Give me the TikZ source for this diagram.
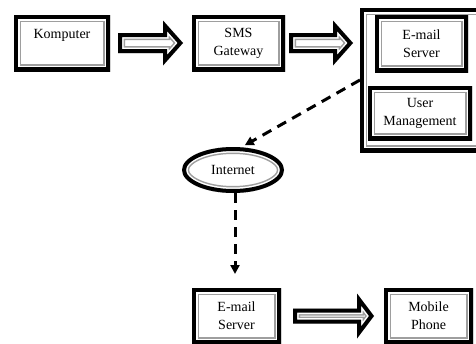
\documentclass[tikz,border=0pt]{standalone}
\usepackage{fontspec}
\setmainfont{Liberation Serif}
\usetikzlibrary{calc,arrows.meta,shapes.geometric}
\definecolor{framegray}{gray}{0.62}
\newcommand\tframe[1]{\begin{scope}\clip #1; \draw[framegray, line width=14pt] #1; \draw[white, line width=11pt] #1; \draw[black, line width=8pt] #1;\end{scope}}
\newcommand\rectframe[1]{\tframe{(#1.north west) rectangle (#1.south east)}}
% from, to, gap from, gap to, shaft half, head half, head length
\newcommand\blockarrow[7]{\tframe{let \p1=($(#1.east)+(#3,0)$), \p2=($(#2.west)-(#4,0)$) in
  (\x1,\y1+#5pt) -- (\x2-#7pt,\y1+#5pt) -- (\x2-#7pt,\y1+#6pt) -- (\x2,\y1) --
  (\x2-#7pt,\y1-#6pt) -- (\x2-#7pt,\y1-#5pt) -- (\x1,\y1-#5pt) -- cycle}}
\tikzset{
  box/.style={rectangle, inner sep=0pt, outer sep=0pt, align=center,
    font=\fontsize{14}{18}\selectfont},
  conn/.style={line width=3pt, dash pattern=on 10pt off 7pt,
    -{Triangle[length=9pt,width=9pt]}},
}
\begin{document}
\begin{tikzpicture}[x=1pt,y=-1pt,line join=miter]
\useasboundingbox (0,0) rectangle (476,343);
\fill[white] (0,0) rectangle (476,343);
\clip (0,0) rectangle (476,343);

\node[box, minimum width=96pt, minimum height=56pt] (komp) at (62,43) {Komputer\\\mbox{}};
\node[box, minimum width=93pt, minimum height=56pt] (sms) at (238.5,43) {SMS\\Gateway};
\node[box, minimum width=170pt, minimum height=144pt] (grp) at (445,80) {};
\node[box, minimum width=93pt, minimum height=57pt] (mail1) at (421.5,43.5) {E-mail\\Server};
\node[box, minimum width=104pt, minimum height=54pt] (user) at (420,113) {User\\Management};
\node[box, ellipse, minimum width=102pt, minimum height=46pt] (inet) at (233,170) {Internet};
\node[box, minimum width=89pt, minimum height=56pt] (mail2) at (236.5,316) {E-mail\\Server};
\node[box, minimum width=89pt, minimum height=56pt] (mobile) at (428.5,316) {Mobile\\Phone};

\rectframe{komp}
\rectframe{sms}
\rectframe{grp}
\rectframe{mail1}
\rectframe{user}
\tframe{(inet.center) ellipse [x radius=51pt, y radius=23pt]}
\rectframe{mail2}
\rectframe{mobile}

\blockarrow{komp}{sms}{8}{9}{10}{22.5}{20}
\blockarrow{sms}{grp}{4}{7}{10}{22.5}{20}
\blockarrow{mail2}{mobile}{12}{10}{7.5}{22.5}{17}

\draw[conn, shorten >=4pt] (grp.west) -- (inet.70);
\draw[conn, shorten >=14pt] ($(inet.south)+(2,0)$) -- ($(inet.south |- mail2.north)+(2,0)$);
\end{tikzpicture}
\end{document}
